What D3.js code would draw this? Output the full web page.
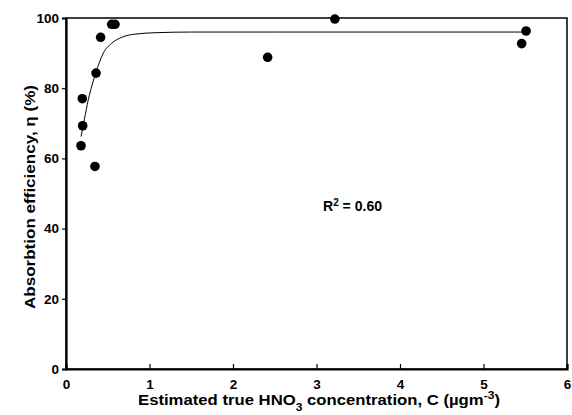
<!DOCTYPE html>
<html>
<head>
<meta charset="utf-8">
<script src="https://cdn.jsdelivr.net/npm/d3@7"></script>
<style>
    body { margin: 0; background: #fff; }
    svg text { font-family: "Liberation Sans", Arial, sans-serif; font-weight: bold; fill: #000; }
</style>
</head>
<body>
<div id="graphDiv"></div>
<script>
// measured points (concentration, efficiency)
var concX = [0.18, 0.2, 0.195, 0.347, 0.36, 0.415, 0.547, 0.587, 2.415, 3.22, 5.457, 5.51];
var effY = [63.6, 69.3, 77.0, 57.7, 84.3, 94.5, 98.2, 98.2, 88.8, 99.7, 92.7, 96.3];

// fitted curve
var fitX = [0.18, 0.219, 0.267, 0.356, 0.447, 0.547, 0.667, 0.826, 1.066, 1.5, 2.5, 4, 5.5];
var fitY = [66.2, 71.0, 76.7, 84.3, 90.0, 92.8, 94.5, 95.4, 95.8, 96.0, 96.0, 96.0, 96.0];

var xTicks = [0, 1, 2, 3, 4, 5, 6];
var yTicks = [0, 20, 40, 60, 80, 100];

var w = 572, h = 415;
var pLeft = 66, pRight = 567, pTop = 18, pBottom = 369;

var svg = d3.select("#graphDiv").append("svg")
    .attr("width", w)
    .attr("height", h);

var xScale = d3.scaleLinear().domain([0, 6]).range([pLeft, pRight]);
var yScale = d3.scaleLinear().domain([0, 100]).range([pBottom, pTop]);

// frame (top / right thinner)
svg.append("rect")
    .attr("x", pLeft).attr("y", pTop)
    .attr("width", pRight - pLeft).attr("height", pBottom - pTop)
    .attr("fill", "none")
    .attr("stroke", "#000")
    .attr("stroke-width", 1.5);

var xAxis = d3.axisBottom(xScale).tickValues(xTicks).tickSize(-5).tickPadding(10).tickFormat(d3.format("d"));
var yAxis = d3.axisLeft(yScale).tickValues(yTicks).tickSize(4).tickPadding(3).tickFormat(d3.format("d"));

var gx = svg.append("g")
    .attr("class", "x axis")
    .attr("transform", "translate(0," + pBottom + ")")
    .call(xAxis);
var gy = svg.append("g")
    .attr("class", "y axis")
    .attr("transform", "translate(" + pLeft + ",0)")
    .call(yAxis);

svg.selectAll(".axis path").attr("stroke", "#000").attr("stroke-width", 2.2);
svg.selectAll(".axis line").attr("stroke", "#000").attr("stroke-width", 1.2);
svg.selectAll(".axis text").style("font-size", "13.5px");

// fitted line
var lineFunc = d3.line()
    .curve(d3.curveMonotoneX)
    .x(function (d) { return xScale(d[0]); })
    .y(function (d) { return yScale(d[1]); });

svg.append("path")
    .attr("d", lineFunc(d3.zip(fitX, fitY)))
    .attr("fill", "none")
    .attr("stroke", "#000")
    .attr("stroke-width", 1);

// points
svg.append("g").selectAll("circle")
    .data(d3.zip(concX, effY))
    .enter().append("circle")
    .attr("cx", function (d) { return xScale(d[0]); })
    .attr("cy", function (d) { return yScale(d[1]); })
    .attr("r", 4.8)
    .attr("fill", "#000");

// R^2 label
var r2 = svg.append("text")
    .attr("x", 323)
    .attr("y", 211)
    .attr("textLength", 59)
    .attr("lengthAdjust", "spacingAndGlyphs")
    .style("font-size", "14px");
r2.append("tspan").text("R");
r2.append("tspan").attr("baseline-shift", "super").style("font-size", "10px").text("2");
r2.append("tspan").text(" = 0.60");

// axis labels
var xl = svg.append("text")
    .attr("x", 319)
    .attr("y", 405)
    .attr("text-anchor", "middle")
    .attr("textLength", 362)
    .attr("lengthAdjust", "spacingAndGlyphs")
    .style("font-size", "14.5px");
xl.append("tspan").text("Estimated true HNO");
xl.append("tspan").attr("baseline-shift", "sub").style("font-size", "10.5px").text("3");
xl.append("tspan").text(" concentration, C (\u00b5gm");
xl.append("tspan").attr("baseline-shift", "super").style("font-size", "10.5px").text("-3");
xl.append("tspan").text(")");

svg.append("text")
    .attr("transform", "translate(35,197) rotate(-90)")
    .attr("text-anchor", "middle")
    .attr("textLength", 224)
    .attr("lengthAdjust", "spacingAndGlyphs")
    .style("font-size", "14.5px")
    .text("Absorbtion efficiency, \u03b7 (%)");
</script>
</body>
</html>
